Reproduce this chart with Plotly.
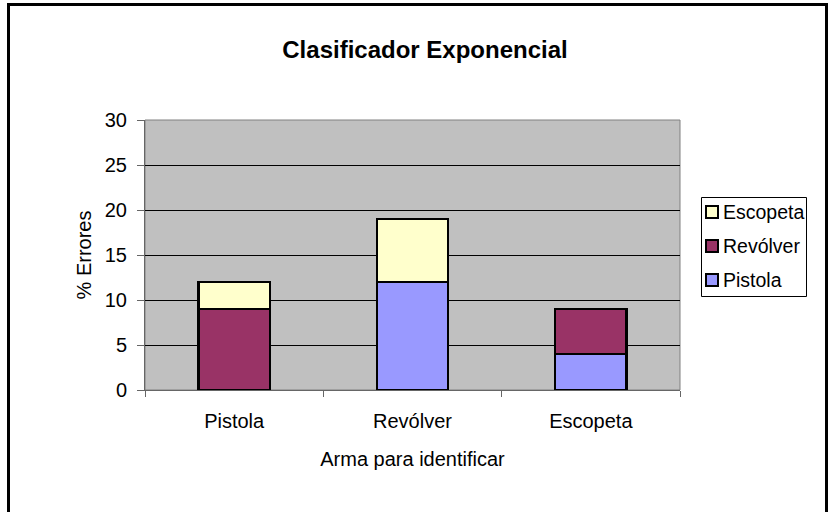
import plotly.graph_objects as go

# Weapon to identify (x categories) and misclassification percentages per predicted class
categories = ["Pistola", "Revólver", "Escopeta"]
pistola = [0, 12, 4]
revolver = [9, 0, 5]
escopeta = [3, 7, 0]

series = [
    ("Pistola", pistola, "#9999FF"),
    ("Revólver", revolver, "#993366"),
    ("Escopeta", escopeta, "#FFFFCC"),
]

FONT = "Liberation Sans, Arial, sans-serif"

fig = go.Figure()
for name, values, color in series:
    fig.add_trace(go.Bar(
        x=categories, y=values, name=name,
        marker=dict(color=color, line=dict(color="black", width=2.5)),
        showlegend=False,
    ))

W, H = 836, 512
L, R, T, B = 145, 156, 120, 122
pw, ph = W - L - R, H - T - B


def px_x(x):
    return (x - L) / pw


def px_y(y):
    return (H - B - y) / ph


shapes = [
    # plot-area frame
    dict(type="rect", xref="paper", yref="paper", x0=0, x1=1, y0=0, y1=1,
         line=dict(color="#808080", width=1), layer="below"),
    # outer chart border
    dict(type="rect", xref="paper", yref="paper",
         x0=px_x(8.5), x1=px_x(826.5), y0=px_y(4.5), y1=px_y(530),
         line=dict(color="black", width=3)),
    # legend frame
    dict(type="rect", xref="paper", yref="paper",
         x0=px_x(701.5), x1=px_x(806.5), y0=px_y(197.5), y1=px_y(296.5),
         line=dict(color="black", width=1), fillcolor="white"),
]
annotations = []

# legend entries, top to bottom in reverse stacking order
for i, (name, _, color) in enumerate(reversed(series)):
    cy = 212 + i * 34
    shapes.append(dict(
        type="rect", xref="paper", yref="paper",
        x0=px_x(706), x1=px_x(718), y0=px_y(cy - 6), y1=px_y(cy + 6),
        line=dict(color="black", width=2), fillcolor=color,
    ))
    annotations.append(dict(
        text=name, xref="paper", yref="paper",
        x=px_x(721), y=px_y(cy), xanchor="left", yanchor="middle",
        showarrow=False, font=dict(size=19.5, color="black", family=FONT),
    ))

fig.update_layout(
    width=W, height=H,
    margin=dict(l=L, r=R, t=T, b=B, pad=0),
    barmode="stack",
    bargap=0.6,
    paper_bgcolor="white",
    plot_bgcolor="#C0C0C0",
    font=dict(family=FONT, size=20, color="black"),
    title=dict(
        text="<b>Clasificador Exponencial</b>",
        x=px_x(425), xref="paper", xanchor="center",
        y=1 - 50 / H, yanchor="middle",
        font=dict(size=24, color="black"),
    ),
    showlegend=False,
    xaxis=dict(
        tickson="boundaries",
        ticks="outside", ticklen=6, tickcolor="#666666",
        showline=True, linecolor="#666666", linewidth=1,
        showgrid=False,
        tickfont=dict(size=20),
        ticklabelstandoff=13,
        title=dict(text="Arma para identificar", font=dict(size=20), standoff=20),
    ),
    yaxis=dict(
        range=[0, 30], dtick=5,
        ticks="outside", ticklen=7, tickcolor="#666666",
        showline=True, linecolor="#666666", linewidth=1,
        showgrid=True, gridcolor="black", gridwidth=1,
        zeroline=False,
        tickfont=dict(size=20),
        ticklabelstandoff=6,
        title=dict(text="% Errores", font=dict(size=20), standoff=7),
    ),
    shapes=shapes,
    annotations=annotations,
)

fig.write_html("out.html")
